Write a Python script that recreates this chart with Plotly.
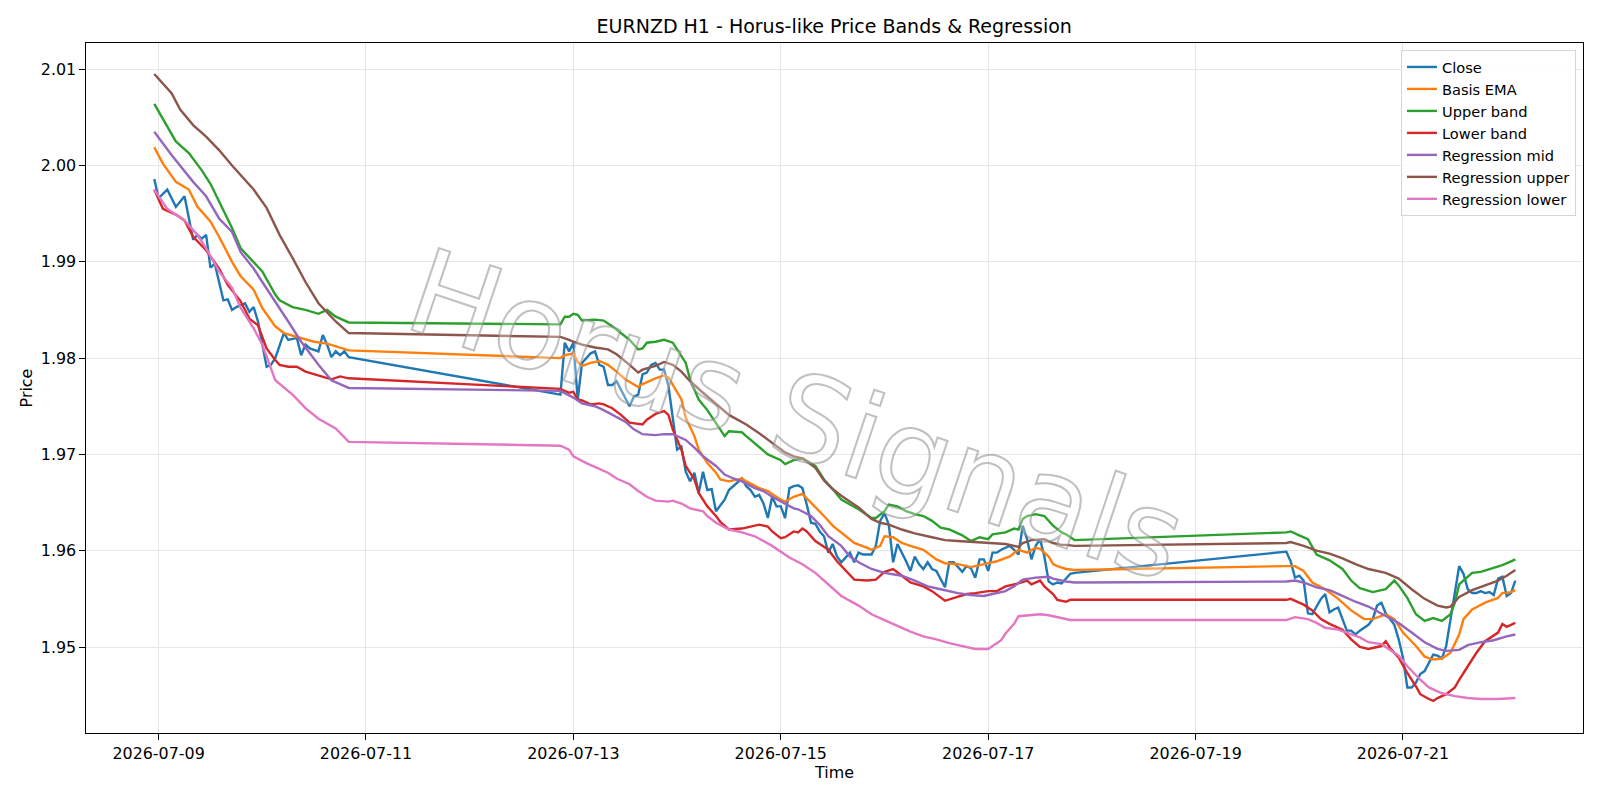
import pandas as pd
import plotly.graph_objects as go

BASE = pd.Timestamp("2026-07-09 00:00")

# ---------------- data (hour offsets from 2026-07-09 00:00, price values) ----------------
close_hours_a = [-1, 0, 2, 4, 6, 8, 9, 10, 11, 12, 13, 15, 16, 17, 18, 20, 21, 22, 23, 25, 26, 27, 29, 30,
                 32, 33, 34, 35, 37, 38, 39, 40, 41, 42, 43, 44]
close_vals_a = [1.9986, 1.9966, 1.9975, 1.9957, 1.9968, 1.9923, 1.9928, 1.9924, 1.9928, 1.9894, 1.9898, 1.9860,
                1.9861, 1.9850, 1.9853, 1.9857, 1.9848, 1.9853, 1.9838, 1.9791, 1.9793, 1.9800, 1.9826, 1.9819,
                1.9821, 1.9803, 1.9814, 1.9810, 1.9807, 1.9824, 1.9814, 1.9801, 1.9807, 1.9803, 1.9807, 1.9801]

close_hours_b = [93, 94, 95, 96, 97, 98, 100, 101, 102, 103, 104, 105, 106, 107, 109, 110, 111, 112, 113, 114,
                 115, 116, 117, 118, 119, 120, 121, 122, 123, 124, 125, 126, 127, 128, 129, 131, 132, 134, 135,
                 136, 137, 138, 139, 140, 141, 142, 143, 144, 145, 146, 147, 148, 149, 150, 151, 152, 153, 154,
                 155, 156, 157, 158, 160, 161, 162, 163, 165, 166, 167, 168, 169, 170, 171, 173, 174, 175, 176,
                 177, 178, 179, 180, 182, 183, 184, 186, 187, 188, 189, 190, 191, 192, 193, 194, 195, 196, 197,
                 198, 199, 200, 201, 202, 203, 204, 205, 206, 207, 208, 209, 211, 212]
close_vals_b = [1.9762, 1.9816, 1.9807, 1.9816, 1.9757, 1.9795, 1.9805, 1.9807, 1.9793, 1.9791, 1.9772, 1.9772,
                1.9776, 1.9767, 1.9750, 1.9760, 1.9762, 1.9783, 1.9785, 1.9793, 1.9795, 1.9788, 1.9788, 1.9771,
                1.9736, 1.9705, 1.9708, 1.9682, 1.9672, 1.9681, 1.9660, 1.9682, 1.9663, 1.9664, 1.9641, 1.9653,
                1.9663, 1.9671, 1.9675, 1.9667, 1.9663, 1.9656, 1.9658, 1.9649, 1.9634, 1.9656, 1.9646, 1.9646,
                1.9634, 1.9665, 1.9667, 1.9668, 1.9665, 1.9648, 1.9629, 1.9628, 1.9620, 1.9615, 1.9598, 1.9607,
                1.9594, 1.9588, 1.9598, 1.9588, 1.9598, 1.9596, 1.9596, 1.9605, 1.9631, 1.9639, 1.9627, 1.9588,
                1.9607, 1.9589, 1.9579, 1.9594, 1.9586, 1.9581, 1.9588, 1.9581, 1.9579, 1.9562, 1.9588, 1.9588,
                1.9578, 1.9584, 1.9582, 1.9572, 1.9591, 1.9591, 1.9579, 1.9598, 1.9598, 1.9601, 1.9603, 1.9605,
                1.9601, 1.9596, 1.9626, 1.9612, 1.9591, 1.9605, 1.9612, 1.9594, 1.9568, 1.9565, 1.9567, 1.9566,
                1.9576, 1.9577]

close_hours_c = [261, 262, 263, 264, 265, 266, 267, 268, 269, 270, 271, 272, 273, 274, 275, 276, 277, 278, 279,
                 280, 281, 282, 283, 284, 285, 286, 287, 288, 289, 290, 291, 292, 293, 294, 295, 296, 297, 298,
                 299, 300, 301, 302, 303, 304, 305, 306, 307, 308, 309, 310, 311, 312, 313, 314]
close_vals_c = [1.9599, 1.9589, 1.9572, 1.9574, 1.9569, 1.9535, 1.9534, 1.9542, 1.9550, 1.9555, 1.9536, 1.9539,
                1.9541, 1.9529, 1.9517, 1.9517, 1.9513, 1.9517, 1.9520, 1.9523, 1.9529, 1.9543, 1.9546, 1.9535,
                1.9529, 1.9523, 1.9508, 1.9489, 1.9458, 1.9458, 1.9463, 1.9472, 1.9475, 1.9484, 1.9492, 1.9491,
                1.9488, 1.9501, 1.9529, 1.9553, 1.9584, 1.9576, 1.9560, 1.9556, 1.9556, 1.9558, 1.9556, 1.9557,
                1.9554, 1.9571, 1.9573, 1.9553, 1.9556, 1.9569]

ema_hours = [-1, 1, 4, 7, 9, 12, 14, 17, 19, 22, 24, 27, 29, 32, 36, 39, 41, 44,
             93, 94, 96, 97, 98, 100, 102, 104, 106, 108, 111, 112, 115, 117, 118, 119, 121, 122, 124, 125,
             127, 129, 130, 132, 135, 136, 139, 141, 144, 145, 147, 149, 151, 154, 156, 158, 161, 164, 165,
             167, 168, 170, 172, 174, 177, 180, 182, 185, 188, 191, 194, 197, 199, 201, 203, 204, 206, 207,
             208, 210, 212,
             261, 263, 265, 267, 270, 273, 276, 279, 281, 284, 286, 288, 291, 293, 295, 297, 299, 301, 302,
             304, 307, 310, 311, 313, 314]
ema_vals = [2.0019, 2.0002, 1.9983, 1.9975, 1.9957, 1.9942, 1.9926, 1.9900, 1.9885, 1.9871, 1.9852, 1.9833,
            1.9826, 1.9822, 1.9817, 1.9815, 1.9812, 1.9808,
            1.9800, 1.9803, 1.9805, 1.9796, 1.9792, 1.9795, 1.9797, 1.9793, 1.9786, 1.9778, 1.9770, 1.9773,
            1.9779, 1.9782, 1.9780, 1.9772, 1.9757, 1.9738, 1.9719, 1.9705, 1.9691, 1.9681, 1.9674, 1.9672,
            1.9675, 1.9672, 1.9665, 1.9662, 1.9653, 1.9651, 1.9656, 1.9659, 1.9650, 1.9636, 1.9626, 1.9619,
            1.9608, 1.9603, 1.9601, 1.9605, 1.9615, 1.9614, 1.9608, 1.9605, 1.9601, 1.9591, 1.9587, 1.9586,
            1.9583, 1.9586, 1.9589, 1.9594, 1.9601, 1.9598, 1.9603, 1.9602, 1.9594, 1.9586, 1.9584, 1.9581,
            1.9580,
            1.9584, 1.9584, 1.9579, 1.9567, 1.9560, 1.9550, 1.9538, 1.9529, 1.9529, 1.9534, 1.9529, 1.9515,
            1.9501, 1.9490, 1.9487, 1.9488, 1.9494, 1.9513, 1.9529, 1.9539, 1.9546, 1.9551, 1.9556, 1.9557,
            1.9559]

upper_hours = [-1, 1, 4, 7, 10, 12, 14, 17, 19, 22, 24, 27, 28, 31, 34, 37, 39, 41, 44,
               93, 94, 95, 96, 97, 98, 101, 103, 104, 105, 107, 109, 111, 112, 113, 115, 117, 119, 120, 122,
               123, 125, 127, 129, 131, 132, 135, 136, 139, 141, 144, 145, 147, 149, 152, 154, 156, 158, 162,
               165, 166, 168, 169, 171, 173, 175, 177, 179, 181, 183, 186, 188, 190, 192, 193, 196, 198, 199,
               200, 201, 203, 205, 207, 209, 210, 212,
               261, 262, 264, 266, 268, 271, 274, 276, 278, 281, 284, 286, 287, 289, 291, 293, 295, 297, 299,
               300, 301, 304, 306, 308, 311, 313, 314]
upper_vals = [2.0064, 2.0049, 2.0025, 2.0013, 1.9995, 1.9981, 1.9962, 1.9935, 1.9914, 1.9900, 1.9890, 1.9866,
              1.9860, 1.9853, 1.9850, 1.9846, 1.9850, 1.9843, 1.9837,
              1.9835, 1.9843, 1.9843, 1.9846, 1.9845, 1.9839, 1.9840, 1.9839, 1.9836, 1.9833, 1.9826, 1.9819,
              1.9809, 1.9810, 1.9816, 1.9817, 1.9819, 1.9816, 1.9809, 1.9795, 1.9778, 1.9757, 1.9746, 1.9733,
              1.9719, 1.9724, 1.9723, 1.9719, 1.9708, 1.9700, 1.9694, 1.9690, 1.9694, 1.9696, 1.9688, 1.9674,
              1.9664, 1.9653, 1.9643, 1.9634, 1.9634, 1.9641, 1.9648, 1.9646, 1.9641, 1.9638, 1.9636, 1.9631,
              1.9624, 1.9622, 1.9616, 1.9610, 1.9614, 1.9612, 1.9617, 1.9619, 1.9623, 1.9622, 1.9633, 1.9636,
              1.9638, 1.9636, 1.9626, 1.9619, 1.9617, 1.9611,
              1.9619, 1.9620, 1.9616, 1.9612, 1.9596, 1.9590, 1.9581, 1.9569, 1.9561, 1.9557, 1.9560, 1.9569,
              1.9564, 1.9551, 1.9534, 1.9527, 1.9530, 1.9527, 1.9534, 1.9546, 1.9565, 1.9577, 1.9578, 1.9581,
              1.9585, 1.9589, 1.9591]

lower_hours = [-1, 1, 4, 6, 8, 11, 14, 16, 19, 21, 23, 25, 27, 28, 30, 32, 34, 37, 40, 42, 44,
               93, 95, 96, 97, 98, 100, 102, 103, 105, 107, 109, 112, 113, 115, 117, 118, 119, 121, 122, 124,
               125, 127, 129, 130, 132, 135, 137, 139, 141, 142, 144, 145, 147, 148, 149, 150, 152, 155, 157,
               159, 161, 164, 166, 168, 170, 172, 174, 177, 179, 182, 184, 187, 189, 192, 194, 196, 199, 201,
               202, 204, 205, 207, 208, 210, 211, 212,
               261, 262, 264, 265, 267, 269, 271, 274, 276, 278, 280, 283, 284, 285, 287, 289, 291, 292, 294,
               295, 296, 298, 300, 301, 303, 305, 307, 310, 311, 312, 313, 314]
lower_vals = [1.9975, 1.9955, 1.9949, 1.9943, 1.9926, 1.9912, 1.9893, 1.9876, 1.9859, 1.9841, 1.9834, 1.9810,
              1.9798, 1.9793, 1.9791, 1.9791, 1.9786, 1.9782, 1.9778, 1.9781, 1.9779,
              1.9768, 1.9764, 1.9765, 1.9757, 1.9756, 1.9752, 1.9753, 1.9752, 1.9748, 1.9741, 1.9733, 1.9731,
              1.9736, 1.9742, 1.9745, 1.9741, 1.9726, 1.9705, 1.9688, 1.9674, 1.9660, 1.9646, 1.9636, 1.9630,
              1.9622, 1.9623, 1.9625, 1.9627, 1.9625, 1.9620, 1.9613, 1.9614, 1.9620, 1.9619, 1.9623, 1.9620,
              1.9610, 1.9601, 1.9589, 1.9579, 1.9570, 1.9569, 1.9570, 1.9578, 1.9581, 1.9574, 1.9567, 1.9563,
              1.9558, 1.9548, 1.9551, 1.9555, 1.9556, 1.9558, 1.9558, 1.9563, 1.9566, 1.9569, 1.9565, 1.9569,
              1.9563, 1.9555, 1.9549, 1.9547, 1.9549, 1.9549,
              1.9549, 1.9550, 1.9546, 1.9544, 1.9538, 1.9529, 1.9524, 1.9518, 1.9508, 1.9500, 1.9498, 1.9501,
              1.9506, 1.9499, 1.9489, 1.9473, 1.9459, 1.9451, 1.9446, 1.9444, 1.9447, 1.9451, 1.9458, 1.9466,
              1.9480, 1.9494, 1.9506, 1.9515, 1.9524, 1.9521, 1.9523, 1.9525]

reg_mid_hours = [-1, 3, 8, 11, 14, 17, 19, 22, 24, 27, 30, 33, 37, 40, 44,
                 93, 96, 98, 101, 103, 105, 108, 110, 112, 115, 117, 119, 122, 124, 126, 129, 131, 133, 135,
                 138, 140, 142, 145, 147, 148, 151, 153, 155, 158, 160, 162, 165, 168, 172, 175, 178, 181, 185,
                 188, 191, 193, 196, 198, 200, 203, 206, 207, 210, 212,
                 261, 263, 265, 268, 271, 274, 277, 280, 284, 287, 290, 293, 296, 298, 301, 303, 306, 309, 312,
                 314]
reg_mid_vals = [2.0035, 2.0011, 1.9983, 1.9968, 1.9945, 1.9931, 1.9910, 1.9893, 1.9879, 1.9859, 1.9838, 1.9817,
                1.9793, 1.9777, 1.9769,
                1.9766, 1.9759, 1.9753, 1.9750, 1.9746, 1.9741, 1.9734, 1.9726, 1.9721, 1.9720, 1.9721, 1.9721,
                1.9715, 1.9707, 1.9698, 1.9688, 1.9679, 1.9675, 1.9672, 1.9665, 1.9662, 1.9656, 1.9649, 1.9644,
                1.9643, 1.9636, 1.9627, 1.9615, 1.9605, 1.9594, 1.9588, 1.9581, 1.9577, 1.9574, 1.9569, 1.9563,
                1.9560, 1.9556, 1.9554, 1.9553, 1.9555, 1.9558, 1.9563, 1.9570, 1.9572, 1.9573, 1.9571, 1.9568,
                1.9567,
                1.9568, 1.9569, 1.9567, 1.9562, 1.9559, 1.9553, 1.9547, 1.9542, 1.9532, 1.9525, 1.9515, 1.9505,
                1.9498, 1.9496, 1.9497, 1.9502, 1.9505, 1.9507, 1.9511, 1.9513]

reg_up_hours = [-1, 3, 5, 8, 11, 14, 17, 22, 25, 28, 31, 34, 37, 41, 44,
                93, 95, 96, 98, 101, 104, 106, 109, 111, 112, 115, 117, 119, 121, 123, 126, 129, 132, 136, 139,
                142, 145, 147, 149, 152, 154, 156, 158, 162, 165, 167, 169, 172, 175, 179, 182, 185, 189, 192,
                196, 199, 200, 202, 205, 207, 209, 210, 212,
                261, 262, 265, 268, 271, 274, 277, 280, 284, 287, 290, 293, 296, 298, 299, 301, 304, 307, 310,
                312, 314]
reg_up_vals = [2.0095, 2.0075, 2.0058, 2.0042, 2.0030, 2.0016, 2.0000, 1.9975, 1.9956, 1.9928, 1.9904, 1.9879,
               1.9857, 1.9838, 1.9826,
               1.9822, 1.9819, 1.9817, 1.9814, 1.9811, 1.9809, 1.9804, 1.9793, 1.9785, 1.9788, 1.9792, 1.9796,
               1.9793, 1.9786, 1.9776, 1.9764, 1.9752, 1.9741, 1.9731, 1.9722, 1.9712, 1.9702, 1.9698, 1.9696,
               1.9686, 1.9673, 1.9664, 1.9657, 1.9645, 1.9633, 1.9629, 1.9627, 1.9622, 1.9618, 1.9614, 1.9611,
               1.9610, 1.9609, 1.9608, 1.9607, 1.9604, 1.9608, 1.9611, 1.9612, 1.9608, 1.9606, 1.9606, 1.9605,
               1.9608, 1.9609, 1.9605, 1.9600, 1.9597, 1.9592, 1.9586, 1.9581, 1.9577, 1.9571, 1.9560, 1.9550,
               1.9543, 1.9541, 1.9542, 1.9552, 1.9559, 1.9564, 1.9569, 1.9574, 1.9580]

reg_low_hours = [-1, 2, 6, 9, 11, 14, 17, 19, 22, 24, 27, 31, 34, 37, 41, 44,
                 93, 95, 96, 99, 102, 104, 106, 109, 111, 113, 115, 118, 119, 121, 123, 126, 127, 129, 132,
                 135, 138, 142, 146, 149, 152, 155, 158, 162, 165, 168, 171, 174, 177, 180, 183, 186, 189, 192,
                 193, 195, 196, 198, 199, 201, 204, 206, 209, 211, 212,
                 261, 263, 266, 268, 270, 273, 275, 278, 280, 283, 284, 287, 289, 292, 294, 297, 300, 303, 306,
                 310, 314]
reg_low_vals = [1.9975, 1.9955, 1.9943, 1.9928, 1.9914, 1.9890, 1.9873, 1.9852, 1.9831, 1.9814, 1.9777, 1.9762,
                1.9748, 1.9737, 1.9727, 1.9713,
                1.9709, 1.9705, 1.9698, 1.9691, 1.9685, 1.9681, 1.9675, 1.9669, 1.9662, 1.9656, 1.9652, 1.9651,
                1.9652, 1.9649, 1.9644, 1.9641, 1.9636, 1.9629, 1.9622, 1.9619, 1.9615, 1.9605, 1.9593, 1.9586,
                1.9577, 1.9565, 1.9553, 1.9543, 1.9534, 1.9528, 1.9522, 1.9516, 1.9511, 1.9508, 1.9504, 1.9501,
                1.9498, 1.9498, 1.9501, 1.9507, 1.9514, 1.9524, 1.9532, 1.9533, 1.9534, 1.9533, 1.9530, 1.9528,
                1.9528,
                1.9528, 1.9531, 1.9529, 1.9525, 1.9520, 1.9518, 1.9515, 1.9510, 1.9505, 1.9503, 1.9500, 1.9491,
                1.9480, 1.9466, 1.9458, 1.9452, 1.9449, 1.9447, 1.9446, 1.9446, 1.9447]

x_tick_dates = ["2026-07-09", "2026-07-11", "2026-07-13", "2026-07-15", "2026-07-17", "2026-07-19", "2026-07-21"]
y_ticks = [1.95, 1.96, 1.97, 1.98, 1.99, 2.00, 2.01]

# ---------------- figure ----------------
def to_time(hours):
    return [BASE + pd.Timedelta(hours=h) for h in hours]

close_hours = close_hours_a + close_hours_b + close_hours_c
close_vals = close_vals_a + close_vals_b + close_vals_c

series = [
    ("Close", close_hours, close_vals, "#1f77b4"),
    ("Basis EMA", ema_hours, ema_vals, "#ff7f0e"),
    ("Upper band", upper_hours, upper_vals, "#2ca02c"),
    ("Lower band", lower_hours, lower_vals, "#d62728"),
    ("Regression mid", reg_mid_hours, reg_mid_vals, "#9467bd"),
    ("Regression upper", reg_up_hours, reg_up_vals, "#8c564b"),
    ("Regression lower", reg_low_hours, reg_low_vals, "#e377c2"),
]

fig = go.Figure()
for name, hrs, vals, color in series:
    assert len(hrs) == len(vals), (name, len(hrs), len(vals))
    fig.add_trace(go.Scatter(x=to_time(hrs), y=vals, mode="lines", name=name,
                             line=dict(color=color, width=2.4)))

FONT = "DejaVu Sans"
TICK_SIZE = 15.9
axis_common = dict(showline=True, linecolor="black", linewidth=1.3, mirror=True,
                   ticks="outside", ticklen=5.5, tickwidth=1.3, tickcolor="black",
                   showgrid=True, gridcolor="#e6e6e6", gridwidth=1.3, zeroline=False,
                   tickfont=dict(family=FONT, size=TICK_SIZE, color="black"))

fig.update_layout(
    width=1600, height=800,
    margin=dict(l=86, r=17, t=43, b=67),
    paper_bgcolor="white", plot_bgcolor="white",
    font=dict(family=FONT, size=TICK_SIZE, color="black"),
    title=dict(text="EURNZD H1 - Horus-like Price Bands & Regression",
               x=0.5214, xref="container", xanchor="center",
               y=1 - 26 / 800, yref="container", yanchor="middle",
               font=dict(family=FONT, size=19, color="black")),
    showlegend=True,
    legend=dict(x=0.9953, y=0.9899, xanchor="right", yanchor="top",
                bgcolor="rgba(255,255,255,0.85)", bordercolor="#d6d6d6", borderwidth=1,
                font=dict(family=FONT, size=14.6, color="black"), itemwidth=30),
    hovermode=False,
)

fig.update_xaxes(
    type="date",
    range=[BASE + pd.Timedelta(hours=-16.8), BASE + pd.Timedelta(hours=329.66)],
    tickvals=x_tick_dates, tickformat="%Y-%m-%d",
    title=dict(text="Time", font=dict(family=FONT, size=TICK_SIZE), standoff=3),
    **axis_common)
fig.update_yaxes(
    range=[1.94107, 2.01272],
    tickvals=y_ticks, tickformat=".2f",
    title=dict(text="Price", font=dict(family=FONT, size=TICK_SIZE), standoff=4),
    **axis_common)

# watermark
fig.add_annotation(text="Horus Signals", xref="paper", yref="paper",
                   x=(796 - 86) / 1497, y=(733 - 415) / 690, xanchor="center", yanchor="middle",
                   showarrow=False, textangle=18.5,
                   font=dict(family=FONT, size=118, color="rgba(128,128,128,0.3)"))

post = """
var gd = document.getElementById('{plot_id}');
function wm(){
  gd.querySelectorAll('text.annotation-text').forEach(function(t){
    if (t.textContent.indexOf('Horus') >= 0){
      t.style.fill = 'rgb(255,255,255)';
      t.style.fillOpacity = '0.3';
      t.style.stroke = 'rgb(140,140,140)';
      t.style.strokeOpacity = '0.55';
      t.style.strokeWidth = '2px';
    }
  });
}
wm();
if (gd.on) { gd.on('plotly_afterplot', wm); }
"""

fig.write_html("out.html", post_script=post)
